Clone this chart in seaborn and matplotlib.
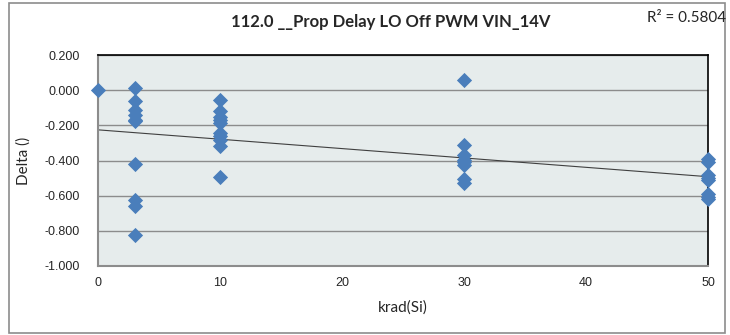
import numpy as np
import pandas as pd
import seaborn as sns
import matplotlib.pyplot as plt
from matplotlib.patches import Rectangle

# Values
dose_levels = [0, 3, 10, 30, 50]
delta_0 = [0.000]
delta_3 = [0.015, -0.061, -0.114, -0.142, -0.167, -0.175, -0.418, -0.627, -0.661, -0.821]
delta_10 = [-0.056, -0.118, -0.155, -0.172, -0.186, -0.243, -0.262, -0.281, -0.315, -0.494]
delta_30 = [0.057, -0.313, -0.370, -0.395, -0.410, -0.427, -0.503, -0.528]
delta_50 = [-0.390, -0.410, -0.480, -0.500, -0.510, -0.590, -0.610, -0.620]
y_ticks = [0.2, 0.0, -0.2, -0.4, -0.6, -0.8, -1.0]
x_ticks = [0, 10, 20, 30, 40, 50]
title = "112.0 __Prop Delay LO Off PWM VIN_14V"
r2_text = "R² = 0.5804"

rows = []
for x, ys in zip(dose_levels, [delta_0, delta_3, delta_10, delta_30, delta_50]):
    for y in ys:
        rows.append((x, y))
df = pd.DataFrame(rows, columns=["krad", "delta"])

sns.set_style("white")
plt.rcParams['font.family'] = ['Liberation Sans', 'DejaVu Sans']

fig = plt.figure(figsize=(7.3, 3.35), dpi=100)
ax = fig.add_axes([98 / 730, 69 / 335, 610 / 730, 211 / 335])
ax.set_facecolor('#e6ecec')

# horizontal gridlines
for yt in y_ticks:
    ax.axhline(yt, color='#8c8c8c', lw=1.0, zorder=1)

# linear trend line
sns.regplot(data=df, x="krad", y="delta", scatter=False, ci=None, ax=ax,
            line_kws=dict(color='#404040', lw=0.8, zorder=2))

sns.scatterplot(data=df, x="krad", y="delta", marker='D', s=60, color='#4a7ebb',
                edgecolor='#4a7ebb', linewidth=0, ax=ax, zorder=3, clip_on=False)

ax.set_xlim(0, 50)
ax.set_ylim(-1.0, 0.2)
ax.set_yticks(y_ticks)
ax.set_yticklabels([f"{v:.3f}" for v in y_ticks])
ax.set_xticks(x_ticks)
ax.tick_params(axis='y', length=5, color='#8c8c8c', labelsize=9, pad=8)
ax.tick_params(axis='x', length=0, labelsize=9, pad=8)

for side in ['left', 'bottom']:
    ax.spines[side].set_color('#8c8c8c')
    ax.spines[side].set_linewidth(1.5)
for side in ['top', 'right']:
    ax.spines[side].set_color('black')
    ax.spines[side].set_linewidth(1.2)

ax.set_xlabel("krad(Si)", fontsize=11, family=['Lato', 'DejaVu Sans'], labelpad=8)
ax.set_ylabel("Delta ()", fontsize=11, family=['Lato', 'DejaVu Sans'], labelpad=10)
ax.set_title(title, fontsize=12, fontweight='bold', family=['Lato', 'DejaVu Sans'],
             pad=20, x=0.479)
fig.text(0.995, 0.945, r2_text, ha='right', va='center', fontsize=11,
         family=['Lato', 'DejaVu Sans'])

fig.patches.append(Rectangle((9 / 730, 2 / 335), 716 / 730, 330 / 335, transform=fig.transFigure,
                             fill=False, edgecolor='#8c8c8c', lw=1.2))

fig.savefig("out.png", dpi=100)
